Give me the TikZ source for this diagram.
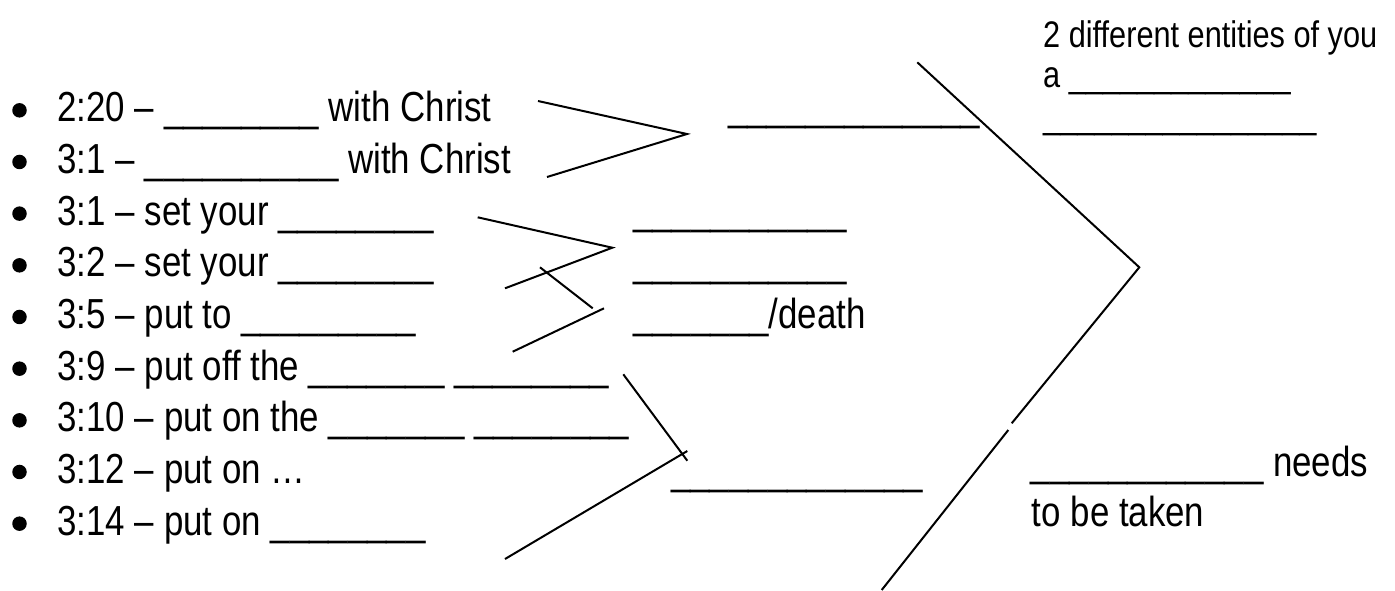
\documentclass[tikz,border=0pt]{standalone}
\usepackage{fontspec}
\setmainfont{Liberation Sans}[FakeStretch=0.83]
\ExplSyntaxOn
\NewDocumentCommand{\blankline}{m}{\prg_replicate:nn{#1}{\textunderscore}}
\ExplSyntaxOff
\tikzset{
  txt/.style={anchor=base west, inner sep=0pt, font=\fontsize{42}{50}\selectfont},
  smalltxt/.style={anchor=base west, inner sep=0pt, font=\fontsize{37}{41}\selectfont},
  stroke/.style={line width=2pt, line cap=butt, line join=miter},
  bul/.style={circle, fill=black, draw=none, inner sep=0pt, minimum size=14.5pt}
}
\begin{document}
\begin{tikzpicture}[x=1pt,y=-1pt]
\useasboundingbox (0,0) rectangle (1395,590);
% bullets and list rows
\foreach \i/\t in {1/{2:20 – \blankline{8} with Christ},
                   2/{3:1 – \blankline{10} with Christ},
                   3/{3:1 – set your \blankline{8}},
                   4/{3:2 – set your \blankline{8}},
                   5/{3:5 – put to \blankline{9}},
                   6/{3:9 – put off the \blankline{7} \blankline{8}},
                   7/{3:10 – put on the \blankline{7} \blankline{8}},
                   8/{3:12 – put on …},
                   9/{3:14 – put on \blankline{8}}}{
  \pgfmathsetmacro{\by}{121.7+51.67*(\i-1)}
  \node[bul] (b\i) at (19.5,\by-11.4) {};
  \node[txt] (r\i) at (57.3,\by) {\t};
}
% middle blanks
\node[txt] (m1) at (728,120.7) {\blankline{13}};
\node[txt] (m2) at (633,224) {\blankline{11}};
\node[txt] (m3) at (633,276.7) {\blankline{11}};
\node[txt] (m4) at (633,328) {\blankline{7}/death};
\node[txt] (m5) at (671,484) {\blankline{13}};
% right texts
\node[smalltxt] (e1) at (1043,47) {2 different entities of you};
\node[smalltxt] (e2) at (1043,87.3) {a \blankline{13}};
\node[smalltxt] (e3) at (1043,128.7) {\blankline{16}};
\node[txt] (n1) at (1030.7,476.5) {\blankline{12} needs};
\node[txt] (n2) at (1031.7,526.7) {to be taken};
% bracket lines
\draw[stroke] (538,101) -- (687,134) -- (547,177);
\draw[stroke] (477.7,217.3) -- (612.3,247.7) -- (505,288.3);
\draw[stroke] (540,267.3) -- (592.7,308.3);
\draw[stroke] (604,308.3) -- (512.7,351.7);
\draw[stroke] (623.3,374.3) -- (687.3,460.7);
\draw[stroke] (505,559) -- (687.3,451);
\draw[stroke] (917.3,62.3) -- (1139.3,267.3) -- (1011.7,423.3);
\draw[stroke] (1008.3,430) -- (881.7,590);
\end{tikzpicture}
\end{document}
